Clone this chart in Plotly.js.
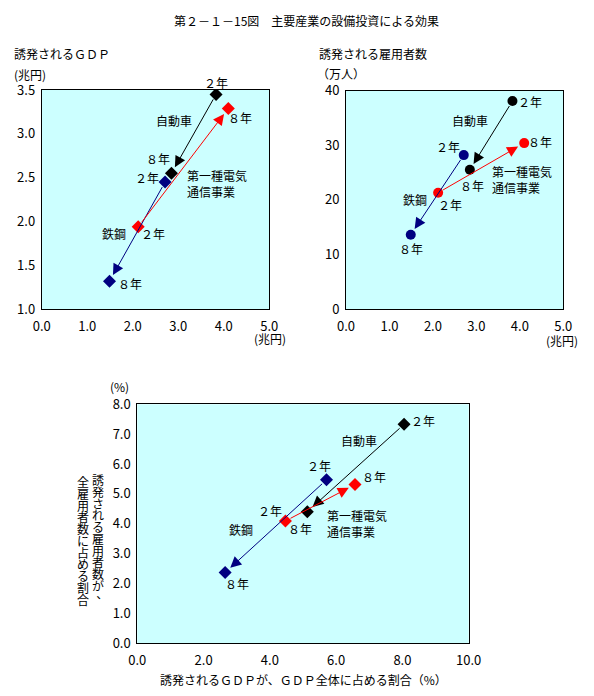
<!DOCTYPE html>
<html>
<head>
<meta charset="utf-8">
<script src="https://cdn.plot.ly/plotly-3.0.1.min.js"></script>
<style>html,body{margin:0;padding:0;background:#fff;}#chart{width:594px;height:696px;}</style>
</head>
<body>
<div id="chart"></div>
<script>
// ---- data ----
const industries = ['自動車', '鉄鋼', '第一種電気通信事業'];
const years = ['２年', '８年'];
// 設備投資額（兆円）
const invest2 = [3.83, 2.71, 2.12];
const invest8 = [2.85, 1.49, 4.10];
// 誘発されるGDP（兆円）
const gdp2 = [3.45, 2.45, 1.94];
const gdp8 = [2.55, 1.32, 3.29];
// 誘発される雇用者数（万人）
const emp2 = [38.1, 28.2, 21.3];
const emp8 = [25.5, 13.6, 30.4];
// 誘発GDPのGDP全体に占める割合（%）
const gdpShare2 = [8.05, 5.71, 4.47];
const gdpShare8 = [5.13, 2.65, 6.57];
// 誘発雇用者数の全雇用者数に占める割合（%）
const empShare2 = [7.33, 5.47, 4.09];
const empShare8 = [4.40, 2.36, 5.31];

// ---- styles ----
const colors = ['#000000', '#000080', '#FF0000'];
const FONT = '"Noto Sans CJK JP", "Noto Sans", sans-serif';
const W = 594, H = 696;
const px = v => v / W, py = v => 1 - v / H;

const charts = [
  {xs: [invest2, invest8], ys: [gdp2, gdp8], xa: 'x', ya: 'y', symbol: 'diamond', size: 10,
   shifts: [[[0, 12], [-13, 15]], [[-18, 5], [20, -2]], [[15, -7], [12, -9]]],
   names: [[2.90, 3.15, 'center'], [1.59, 1.86, 'center'], [3.16, 2.43, 'left']]},
  {xs: [invest2, invest8], ys: [emp2, emp8], xa: 'x2', ya: 'y2', symbol: 'circle', size: 10,
   shifts: [[[18, 0], [2, -16]], [[-16, 9], [0, -14]], [[12, -12], [16, 2]]],
   names: [[2.86, 34.5, 'center'], [1.58, 20.0, 'center'], [3.33, 23.8, 'left']]},
  {xs: [gdpShare2, gdpShare8], ys: [empShare2, empShare8], xa: 'x3', ya: 'y3', symbol: 'diamond', size: 10,
   shifts: [[[19, 4], [-7, -17]], [[-8, 14], [12, -11]], [[-15, 10], [19, 8]]],
   names: [[6.70, 6.78, 'center'], [3.13, 3.79, 'center'], [5.69, 4.0, 'left']]}
];
const nameText = ['自動車', '鉄鋼', '第一種電気<br>通信事業'];

const traces = [];
const annotations = [];
charts.forEach(c => {
  industries.forEach((ind, i) => {
    traces.push({
      type: 'scatter', mode: 'markers', name: ind,
      x: [c.xs[0][i], c.xs[1][i]], y: [c.ys[0][i], c.ys[1][i]],
      xaxis: c.xa, yaxis: c.ya,
      marker: {symbol: c.symbol, size: c.size, color: colors[i], line: {width: 0}},
      hoverinfo: 'skip'
    });
    // arrow 2年 -> 8年
    annotations.push({
      xref: c.xa, yref: c.ya, axref: c.xa, ayref: c.ya,
      x: c.xs[1][i], y: c.ys[1][i], ax: c.xs[0][i], ay: c.ys[0][i],
      text: '', showarrow: true, arrowhead: 2, arrowsize: 2.2, arrowwidth: 1,
      arrowcolor: colors[i], standoff: 7, startstandoff: 4
    });
    // year labels
    [0, 1].forEach(k => {
      annotations.push({
        xref: c.xa, yref: c.ya, x: c.xs[k][i], y: c.ys[k][i],
        xshift: c.shifts[i][k][0], yshift: c.shifts[i][k][1],
        text: years[k], showarrow: false, borderpad: 0, font: {size: 12, color: '#000'}
      });
    });
    // industry names
    annotations.push({
      xref: c.xa, yref: c.ya, x: c.names[i][0], y: c.names[i][1],
      xanchor: c.names[i][2], align: 'left', borderpad: 0,
      text: nameText[i], showarrow: false, font: {size: 12, color: '#000'}
    });
  });
});

// texts in paper coords
const paperTexts = [
  ['第２－１－15図　主要産業の設備投資による効果', 306, 20.7, 'center'],
  ['誘発されるＧＤＰ', 13, 53, 'left'],
  ['(兆円)', 13, 75, 'left'],
  ['誘発される雇用者数', 318, 54, 'left'],
  ['（万人）', 316, 73.5, 'left'],
  ['(兆円)', 269.5, 339, 'center'],
  ['(兆円)', 561.5, 340, 'center'],
  ['(%)', 119, 386, 'center'],
  ['誘発されるＧＤＰが、ＧＤＰ全体に占める割合（%）', 303, 679, 'center']
];
paperTexts.forEach(t => annotations.push({
  xref: 'paper', yref: 'paper', x: px(t[1]), y: py(t[2]), xanchor: t[3], yanchor: 'middle',
  text: t[0], showarrow: false, borderpad: 0, font: {size: 12, color: '#000'}
}));

// vertical y-axis title for chart 3 (one character per line, spacing tightened after render)
const vCols = [['誘発される雇用者数が、', 97.7, 479], ['全雇用者数に占める割合', 82.5, 481]];
const LINE_SCALE = 0.755;
const vIdx = [];
vCols.forEach(col => {
  vIdx.push(annotations.length);
  annotations.push({
    xref: 'paper', yref: 'paper', x: px(col[1]), y: py(col[2] - 9.3),
    xanchor: 'center', yanchor: 'top', align: 'center', borderpad: 0,
    text: Array.from(col[0]).join('<br>'), showarrow: false,
    font: {size: 12, color: '#000'}
  });
});

const axBase = {
  showline: true, mirror: true, linecolor: '#000', linewidth: 1,
  showgrid: false, zeroline: false, ticks: '', fixedrange: true,
  tickfont: {size: 13, color: '#000', family: FONT}
};
const xBase = Object.assign({}, axBase, {ticklabelstandoff: 5});
const yBase = Object.assign({}, axBase, {ticklabelstandoff: 3});

const layout = {
  width: W, height: H,
  margin: {l: 0, r: 0, t: 0, b: 0},
  paper_bgcolor: '#FFFFFF', plot_bgcolor: '#CCFFFF',
  font: {family: FONT, size: 12, color: '#000'},
  showlegend: false,
  xaxis: Object.assign({}, xBase, {domain: [px(41.7), px(269.3)], range: [0, 5], dtick: 1, tickformat: '.1f', anchor: 'y'}),
  yaxis: Object.assign({}, yBase, {domain: [py(309.3), py(90)], range: [1, 3.5], dtick: 0.5, tickformat: '.1f', anchor: 'x'}),
  xaxis2: Object.assign({}, xBase, {domain: [px(346), px(563.3)], range: [0, 5], dtick: 1, tickformat: '.1f', anchor: 'y2'}),
  yaxis2: Object.assign({}, yBase, {domain: [py(309), py(90.7)], range: [0, 40], dtick: 10, tickformat: 'd', anchor: 'x2'}),
  xaxis3: Object.assign({}, xBase, {domain: [px(137.3), px(468.7)], range: [0, 10], dtick: 2, tickformat: '.1f', anchor: 'y3'}),
  yaxis3: Object.assign({}, yBase, {domain: [py(643), py(404.3)], range: [0, 8], dtick: 1, tickformat: '.1f', anchor: 'x3'}),
  annotations: annotations
};

Plotly.newPlot('chart', traces, layout, {staticPlot: true, displayModeBar: false}).then(gd => {
  // tighten the line spacing of the vertical (tategaki) titles
  vIdx.forEach(idx => {
    const g = gd.querySelector('.annotation[data-index="' + idx + '"]');
    if (!g) return;
    g.querySelectorAll('text.annotation-text tspan.line').forEach(t => {
      const dy = parseFloat(t.getAttribute('dy') || '0');
      let ndy = dy * LINE_SCALE;
      if (t.textContent === '、') {
        t.setAttribute('dx', '0.35em');
        ndy -= 0.3;
      }
      t.setAttribute('dy', ndy + 'em');
    });
  });
});
</script>
</body>
</html>
